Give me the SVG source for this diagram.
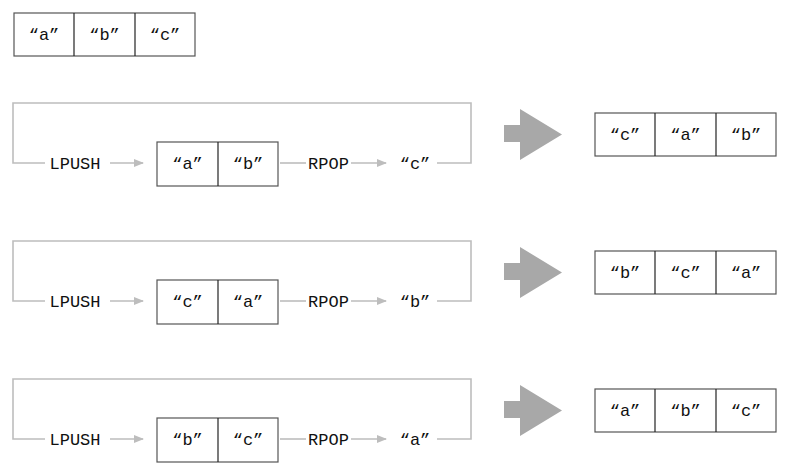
<svg xmlns="http://www.w3.org/2000/svg" width="792" height="473" viewBox="0 0 792 473">
<style>
text{font-family:"Liberation Mono","DejaVu Sans Mono",monospace;font-size:17px;fill:#111;text-anchor:middle}
.cell{fill:#fff;stroke:#555;stroke-width:1.2}
.div{stroke:#222;stroke-width:1.2}
.loop{fill:none;stroke:#bdbdbd;stroke-width:1.6}
.ln{stroke:#bdbdbd;stroke-width:1.6;fill:none}
.big{fill:#a8a8a8}
</style>
<defs>
<marker id="ah" markerUnits="userSpaceOnUse" markerWidth="10" markerHeight="8" refX="9" refY="4" orient="auto">
<path d="M0,0 L10,4 L0,8 Z" fill="#bdbdbd"/>
</marker>
<g id="row">
</g>
</defs>
<rect width="792" height="473" fill="#fff"/>

<g id="start-list">
<rect class="cell" x="14" y="13" width="181" height="43"/>
<line class="div" x1="74" y1="13" x2="74" y2="56"/>
<line class="div" x1="135" y1="13" x2="135" y2="56"/>
<text x="44" y="40">“a”</text>
<text x="104.5" y="40">“b”</text>
<text x="165" y="40">“c”</text>
</g>

<g id="connectors">
<path class="loop" d="M45 163 H13 V103 H471 V163 H437"/>
<line class="ln" x1="110" y1="163" x2="143" y2="163" marker-end="url(#ah)"/>
<line class="ln" x1="280" y1="163" x2="306" y2="163"/>
<line class="ln" x1="351" y1="163" x2="386" y2="163" marker-end="url(#ah)"/>

<path class="loop" d="M45 301 H13 V241 H471 V301 H437"/>
<line class="ln" x1="110" y1="301" x2="143" y2="301" marker-end="url(#ah)"/>
<line class="ln" x1="280" y1="301" x2="306" y2="301"/>
<line class="ln" x1="351" y1="301" x2="386" y2="301" marker-end="url(#ah)"/>

<path class="loop" d="M45 439 H13 V379 H471 V439 H437"/>
<line class="ln" x1="110" y1="439" x2="143" y2="439" marker-end="url(#ah)"/>
<line class="ln" x1="280" y1="439" x2="306" y2="439"/>
<line class="ln" x1="351" y1="439" x2="386" y2="439" marker-end="url(#ah)"/>
</g>

<g id="row1">
<text x="75" y="169">LPUSH</text>
<g id="list1">
<rect class="cell" x="157" y="142" width="121" height="44"/>
<line class="div" x1="218" y1="142" x2="218" y2="186"/>
<text x="187.5" y="169">“a”</text>
<text x="248" y="169">“b”</text>
</g>
<text x="328.5" y="169">RPOP</text>
<text x="415" y="169">“c”</text>
<polygon class="big" points="504,125 520,125 520,109 562,134.5 520,160 520,142 504,142"/>
<g id="result1">
<rect class="cell" x="595" y="113" width="181" height="43"/>
<line class="div" x1="655" y1="113" x2="655" y2="156"/>
<line class="div" x1="716" y1="113" x2="716" y2="156"/>
<text x="625" y="140">“c”</text>
<text x="685.5" y="140">“a”</text>
<text x="746" y="140">“b”</text>
</g>
</g>

<g id="row2">
<text x="75" y="307">LPUSH</text>
<g id="list2">
<rect class="cell" x="157" y="280" width="121" height="44"/>
<line class="div" x1="218" y1="280" x2="218" y2="324"/>
<text x="187.5" y="307">“c”</text>
<text x="248" y="307">“a”</text>
</g>
<text x="328.5" y="307">RPOP</text>
<text x="415" y="307">“b”</text>
<polygon class="big" points="504,263 520,263 520,247 562,272.5 520,298 520,280 504,280"/>
<g id="result2">
<rect class="cell" x="595" y="251" width="181" height="43"/>
<line class="div" x1="655" y1="251" x2="655" y2="294"/>
<line class="div" x1="716" y1="251" x2="716" y2="294"/>
<text x="625" y="278">“b”</text>
<text x="685.5" y="278">“c”</text>
<text x="746" y="278">“a”</text>
</g>
</g>

<g id="row3">
<text x="75" y="445">LPUSH</text>
<g id="list3">
<rect class="cell" x="157" y="418" width="121" height="44"/>
<line class="div" x1="218" y1="418" x2="218" y2="462"/>
<text x="187.5" y="445">“b”</text>
<text x="248" y="445">“c”</text>
</g>
<text x="328.5" y="445">RPOP</text>
<text x="415" y="445">“a”</text>
<polygon class="big" points="504,401 520,401 520,385 562,410.5 520,436 520,418 504,418"/>
<g id="result3">
<rect class="cell" x="595" y="389" width="181" height="43"/>
<line class="div" x1="655" y1="389" x2="655" y2="432"/>
<line class="div" x1="716" y1="389" x2="716" y2="432"/>
<text x="625" y="416">“a”</text>
<text x="685.5" y="416">“b”</text>
<text x="746" y="416">“c”</text>
</g>
</g>
</svg>
